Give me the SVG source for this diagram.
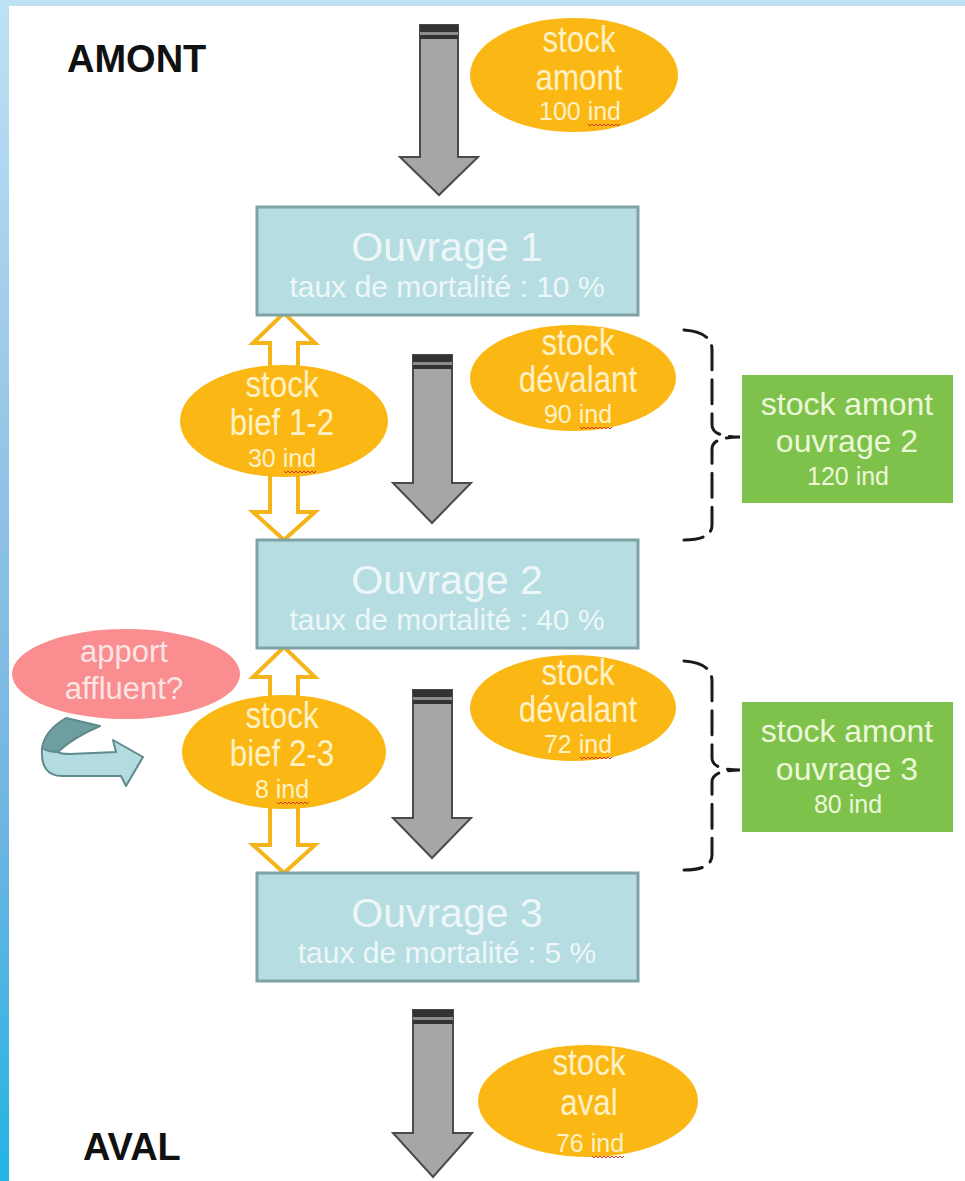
<svg xmlns="http://www.w3.org/2000/svg" width="965" height="1181" viewBox="0 0 965 1181">
<defs>
<linearGradient id="side" x1="0" y1="0" x2="0" y2="1">
<stop offset="0" stop-color="#BEE1F5"/>
<stop offset="0.4" stop-color="#93C3E6"/>
<stop offset="0.7" stop-color="#6FB5E2"/>
<stop offset="1" stop-color="#22B4E3"/>
</linearGradient>
<path id="sq" d="M0 0 l2 2 l2 -2 l2 2 l2 -2 l2 2 l2 -2 l2 2 l2 -2 l2 2 l2 -2 l2 2 l2 -2 l2 2 l2 -2 l2 2 l2 -2" fill="none" stroke="#D23A22" stroke-width="1"/>
<style>
.gray{fill:#A6A6A6;stroke:#4A4A4A;stroke-width:2;stroke-linejoin:miter}
.cap{fill:#333333}
.capl{fill:#8C8C8C}
.hol{fill:#FFFFFF;stroke:#F5B417;stroke-width:4;stroke-linejoin:miter}
.ell{fill:#FBB814}
.box{fill:#B6DDE1;stroke:#7FA2A6;stroke-width:3}
.grn{fill:#7FC24B}
.brace{fill:none;stroke:#1A1A1A;stroke-width:3;stroke-dasharray:24 10;stroke-linecap:round}
.t{font-family:"Liberation Sans",Arial,sans-serif;text-anchor:middle}
.et{fill:#FFF1C6;font-size:36px}
.es{fill:#FFF1C6;font-size:25px}
.ot1{fill:#EDF7F8;font-size:41px}
.ot2{fill:#EDF7F8;font-size:30px}
.gt{fill:#ECF8DA;font-size:32px}
.gs{fill:#ECF8DA;font-size:25px}
.pt{fill:#FDE4E4;font-size:31px}
.lab{font-family:"Liberation Sans",Arial,sans-serif;font-weight:bold;font-size:38px;fill:#111111}
</style>
</defs>

<g id="background">
<rect x="0" y="0" width="965" height="1181" fill="#FFFFFF"/>
<rect x="0" y="0" width="965" height="6" fill="#BEE1F5"/>
<rect x="0" y="0" width="9" height="1181" fill="url(#side)"/>
</g>

<g id="connectors">
<!-- grey flow arrows -->
<g id="arrow1">
<path class="gray" d="M420 25 H458 V157 H478 L439 195 L400 157 H420 Z"/>
<rect class="cap" x="420" y="25" width="38" height="7"/>
<rect class="capl" x="420" y="32" width="38" height="3"/>
<rect class="cap" x="420" y="35" width="38" height="4"/>
</g>
<g id="arrow2">
<path class="gray" d="M413 355 H452 V483 H471 L432 523 L393 483 H413 Z"/>
<rect class="cap" x="413" y="355" width="39" height="7"/>
<rect class="capl" x="413" y="362" width="39" height="3"/>
<rect class="cap" x="413" y="365" width="39" height="4"/>
</g>
<g id="arrow3">
<path class="gray" d="M413 690 H452 V818 H471 L432 858 L393 818 H413 Z"/>
<rect class="cap" x="413" y="690" width="39" height="7"/>
<rect class="capl" x="413" y="697" width="39" height="3"/>
<rect class="cap" x="413" y="700" width="39" height="4"/>
</g>
<g id="arrow4">
<path class="gray" d="M413 1010 H453 V1133 H472 L433 1177 L393 1133 H413 Z"/>
<rect class="cap" x="413" y="1010" width="40" height="7"/>
<rect class="capl" x="413" y="1017" width="40" height="3"/>
<rect class="cap" x="413" y="1020" width="40" height="4"/>
</g>
<!-- hollow orange exchange arrows -->
<path class="hol" d="M270 375 V343 H253 L284 313 L315 343 H298 V375 Z"/>
<path class="hol" d="M270 470 V512 H253 L284 540 L315 512 H298 V470 Z"/>
<path class="hol" d="M270 708 V677 H253 L284 647 L315 677 H298 V708 Z"/>
<path class="hol" d="M270 800 V845 H253 L284 873 L315 845 H298 V800 Z"/>
<!-- braces -->
<path class="brace" d="M684 330 Q712 332 712 350 L712 425 Q712 437 740 437 Q712 437 712 449 L712 525 Q712 540 684 540"/>
<path class="brace" d="M684 661 Q712 663 712 681 L712 758 Q712 770 740 770 Q712 770 712 782 L712 855 Q712 870 684 870"/>
<!-- curved inflow arrow -->
<g id="affluent-arrow">
<path d="M42 748 Q40 776 62 776 L121 776 L126 786 L143 757 L113 740 L116 752 L70 754 Q60 754 58 752 Z" fill="#B3DCE0" stroke="#5E8A8C" stroke-width="2" stroke-linejoin="round"/>
<path d="M66 718 L100 726 Q72 738 58 752 Q48 752 42 748 Q45 730 66 718 Z" fill="#6F9EA0" stroke="#5E8A8C" stroke-width="2" stroke-linejoin="round"/>
</g>
</g>

<g id="label-amont"><text class="lab" x="67" y="72">AMONT</text></g>
<g id="label-aval"><text class="lab" x="83" y="1160">AVAL</text></g>

<g id="stock-amont">
<ellipse class="ell" cx="574" cy="75" rx="104" ry="57"/>
<g transform="translate(579 0) scale(0.87 1)">
<text class="t et" x="0" y="52">stock</text>
<text class="t et" x="0" y="90">amont</text>
</g>
<text class="t es" x="580" y="120">100 ind</text>
<use href="#sq" x="588" y="124"/>
</g>

<g id="ouvrage1">
<rect class="box" x="257" y="207" width="381" height="108"/>
<text class="t ot1" x="447" y="261">Ouvrage 1</text>
<text class="t ot2" x="447" y="297">taux de mortalité : 10 %</text>
</g>

<g id="stock-devalant-1">
<ellipse class="ell" cx="573" cy="378" rx="103" ry="53"/>
<g transform="translate(578 0) scale(0.87 1)">
<text class="t et" x="0" y="355">stock</text>
<text class="t et" x="0" y="392">dévalant</text>
</g>
<text class="t es" x="578" y="423">90 ind</text>
<use href="#sq" x="580" y="427"/>
</g>

<g id="stock-bief-1-2">
<ellipse class="ell" cx="284" cy="421" rx="104" ry="56"/>
<g transform="translate(282 0) scale(0.87 1)">
<text class="t et" x="0" y="397">stock</text>
<text class="t et" x="0" y="435">bief 1-2</text>
</g>
<text class="t es" x="282" y="467">30 ind</text>
<use href="#sq" x="284" y="471"/>
</g>

<g id="stock-amont-ouvrage2">
<rect class="grn" x="742" y="375" width="211" height="128"/>
<text class="t gt" x="847" y="415">stock amont</text>
<text class="t gt" x="847" y="452">ouvrage 2</text>
<text class="t gs" x="848" y="485">120 ind</text>
</g>

<g id="ouvrage2">
<rect class="box" x="257" y="540" width="381" height="108"/>
<text class="t ot1" x="447" y="594">Ouvrage 2</text>
<text class="t ot2" x="447" y="630">taux de mortalité : 40 %</text>
</g>

<g id="apport-affluent">
<ellipse cx="126" cy="674" rx="114" ry="45" fill="#F98D8F"/>
<text class="t pt" x="124" y="662">apport</text>
<text class="t pt" x="124" y="699">affluent?</text>
</g>

<g id="stock-devalant-2">
<ellipse class="ell" cx="573" cy="708" rx="103" ry="53"/>
<g transform="translate(578 0) scale(0.87 1)">
<text class="t et" x="0" y="685">stock</text>
<text class="t et" x="0" y="722">dévalant</text>
</g>
<text class="t es" x="578" y="753">72 ind</text>
<use href="#sq" x="580" y="757"/>
</g>

<g id="stock-bief-2-3">
<ellipse class="ell" cx="284" cy="752" rx="102" ry="57"/>
<g transform="translate(282 0) scale(0.87 1)">
<text class="t et" x="0" y="728">stock</text>
<text class="t et" x="0" y="766">bief 2-3</text>
</g>
<text class="t es" x="282" y="798">8 ind</text>
<use href="#sq" x="277" y="802"/>
</g>

<g id="stock-amont-ouvrage3">
<rect class="grn" x="742" y="702" width="211" height="130"/>
<text class="t gt" x="847" y="742">stock amont</text>
<text class="t gt" x="847" y="780">ouvrage 3</text>
<text class="t gs" x="848" y="813">80 ind</text>
</g>

<g id="ouvrage3">
<rect class="box" x="257" y="873" width="381" height="108"/>
<text class="t ot1" x="447" y="927">Ouvrage 3</text>
<text class="t ot2" x="447" y="963">taux de mortalité : 5 %</text>
</g>

<g id="stock-aval">
<ellipse class="ell" cx="588" cy="1101" rx="110" ry="56"/>
<g transform="translate(589 0) scale(0.87 1)">
<text class="t et" x="0" y="1075">stock</text>
<text class="t et" x="0" y="1115">aval</text>
</g>
<text class="t es" x="590" y="1152">76 ind</text>
<use href="#sq" x="592" y="1156"/>
</g>
</svg>
